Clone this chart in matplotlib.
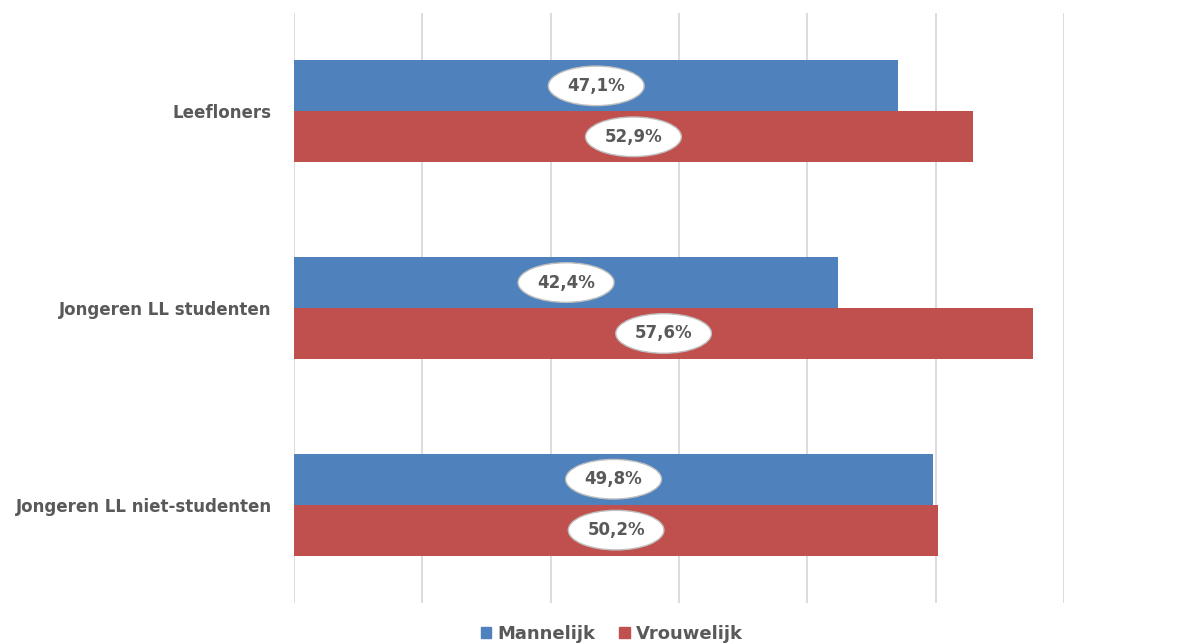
import numpy as np
import matplotlib.pyplot as plt
from matplotlib.patches import Patch

plt.rcParams['font.family'] = ['DejaVu Sans']

# Data
categories = ['Leefloners', 'Jongeren LL studenten', 'Jongeren LL niet-studenten']
mannelijk = [47.1, 42.4, 49.8]
vrouwelijk = [52.9, 57.6, 50.2]
series_names = ['Mannelijk', 'Vrouwelijk']

blue = '#4F81BD'
red = '#C0504D'
text_grey = '#595959'

fig = plt.figure(figsize=(11.81, 6.44), dpi=100)
ax = fig.add_axes([294 / 1181, 41 / 644, 770 / 1181, 590 / 644])

y = np.arange(len(categories))
h = 0.259

ax.barh(y - h / 2, mannelijk, height=h, color=blue, zorder=2)
ax.barh(y + h / 2, vrouwelijk, height=h, color=red, zorder=2)

# Data labels in white ellipses, centred in each bar
for vals, offs in [(mannelijk, -h / 2), (vrouwelijk, h / 2)]:
    for i, v in enumerate(vals):
        ax.text(v / 2, i + offs, f'{v:.1f}%'.replace('.', ','),
                ha='center', va='center', fontsize=12, fontweight='bold',
                color=text_grey, zorder=3,
                bbox=dict(boxstyle='ellipse,pad=0.3', fc='white',
                          ec='#bfbfbf', lw=1))

ax.set_xlim(0, 60)
ax.set_ylim(len(categories) - 0.5, -0.5)
ax.set_xticks(np.arange(0, 61, 10))
ax.xaxis.grid(True, color='#d9d9d9', lw=1.3, zorder=0)
ax.tick_params(axis='x', length=0, labelbottom=False)
ax.tick_params(axis='y', length=0, pad=16)
ax.set_yticks(y)
ax.set_yticklabels(categories, fontsize=12, fontweight='bold', color=text_grey)
for s in ax.spines.values():
    s.set_visible(False)

handles = [Patch(color=blue, label=series_names[0]),
           Patch(color=red, label=series_names[1])]
fig.legend(handles=handles, loc='center', bbox_to_anchor=(612 / 1181, 1 - 634 / 644),
           ncol=2, frameon=False, handlelength=0.6, handleheight=0.6,
           handletextpad=0.35, columnspacing=1.3,
           prop={'size': 13, 'weight': 'bold'}, labelcolor=text_grey)

fig.savefig('out.png', dpi=100)
